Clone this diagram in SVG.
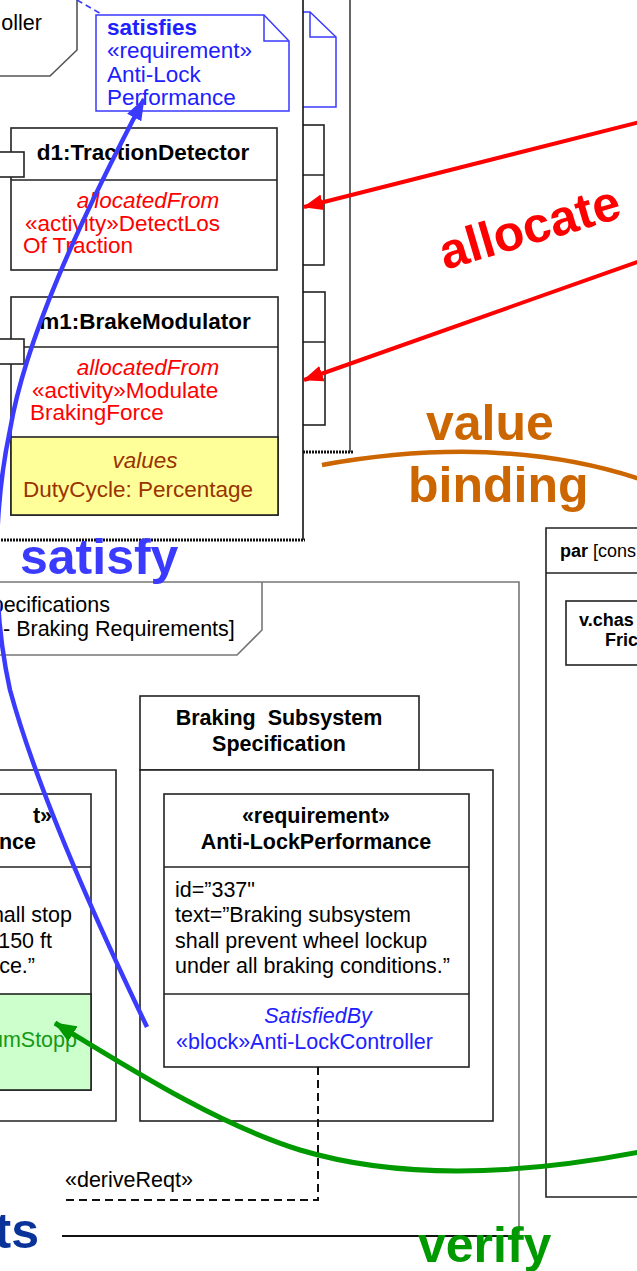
<svg xmlns="http://www.w3.org/2000/svg" width="637" height="1271" viewBox="0 0 637 1271">
<style>
text{font-family:"Liberation Sans",Arial,Helvetica,sans-serif;font-size:22.5px;fill:#000}
.b{font-weight:bold}
.it{font-style:italic}
.r{font-size:21.5px}
.s{font-size:18px}
.c{text-anchor:middle}
.e{text-anchor:end}
.box{fill:#fff;stroke:#222;stroke-width:1.6}
.ln{fill:none;stroke:#222;stroke-width:1.6}
.frm{fill:none;stroke:#777;stroke-width:1.6}
.red{fill:#ff0000}
.blu{fill:#2020ff}
.brn{fill:#993300}
.grn{fill:#159a15}
.big{font-size:50px;font-weight:bold}
.note{fill:#fff;stroke:#3a3aff;stroke-width:1.5}
.dot{stroke:#111;stroke-width:3;stroke-dasharray:2 1}
</style>
<defs>
<marker id="ahR" markerUnits="userSpaceOnUse" markerWidth="20" markerHeight="16" refX="19" refY="8" orient="auto"><path d="M0,0 L20,8 L0,16 z" fill="#ff0000"/></marker>
<marker id="ahB" markerUnits="userSpaceOnUse" markerWidth="22" markerHeight="16" refX="21" refY="8" orient="auto"><path d="M0,0 L22,8 L0,16 z" fill="#3b3bff"/></marker>
<marker id="ahG" markerUnits="userSpaceOnUse" markerWidth="22" markerHeight="18" refX="21" refY="9" orient="auto"><path d="M0,0 L22,9 L0,18 z" fill="#009900"/></marker>
</defs>
<rect x="0" y="0" width="637" height="1271" fill="#fff"/>

<g id="back-ibd">
<line x1="350" y1="0" x2="350" y2="452" stroke="#666" stroke-width="2"/>
<line x1="300" y1="452" x2="353" y2="452" class="dot"/>
<rect x="290" y="125" width="34" height="140" class="box"/>
<line x1="290" y1="175" x2="324" y2="175" class="ln"/>
<rect x="290" y="292" width="35" height="133" class="box"/>
<line x1="290" y1="342" x2="325" y2="342" class="ln"/>
<path d="M290,12 H310 L336,37 V107 H290 z" class="note"/>
<path d="M310,12 V37 H336" fill="none" stroke="#3a3aff" stroke-width="1.5"/>
</g>

<g id="ibd-frame">
<rect x="-5" y="-5" width="308" height="545" fill="#fff"/>
<line x1="303" y1="-2" x2="303" y2="540" stroke="#111" stroke-width="1.6"/>
<line x1="-2" y1="540" x2="305" y2="540" class="dot"/>
<path d="M77,-2 V50 L50,76 H-2" fill="none" stroke="#555" stroke-width="1.6"/>
<text x="42" y="30" class="e r">oller</text>
</g>

<g id="note-satisfies">
<path d="M96,15 H264 L289,41 V111 H96 z" class="note"/>
<path d="M264,15 V41 H289" fill="none" stroke="#3a3aff" stroke-width="1.5"/>
<text x="107" y="35" class="b blu">satisfies</text>
<text x="107" y="58" class="blu">«requirement»</text>
<text x="107" y="82" class="blu">Anti-Lock</text>
<text x="107" y="105" class="blu">Performance</text>
</g>

<g id="d1">
<rect x="11" y="128" width="266" height="142" class="box"/>
<line x1="11" y1="180" x2="277" y2="180" class="ln"/>
<rect x="-5" y="152" width="29" height="25" class="box"/>
<text x="143" y="160" class="b c">d1:TractionDetector</text>
<text x="148" y="208" class="it red c">allocatedFrom</text>
<text x="25" y="231" class="red">«activity»DetectLos</text>
<text x="23" y="253" class="red">Of Traction</text>
</g>

<g id="m1">
<rect x="11" y="297" width="267" height="218" class="box"/>
<rect x="11" y="437" width="267" height="78" fill="#ffff99" stroke="#222" stroke-width="1.6"/>
<line x1="11" y1="347" x2="278" y2="347" class="ln"/>
<rect x="-5" y="339" width="29" height="25" class="box"/>
<text x="145" y="329" class="b c">m1:BrakeModulator</text>
<text x="148" y="375" class="it red c">allocatedFrom</text>
<text x="32" y="398" class="red">«activity»Modulate</text>
<text x="30" y="420" class="red">BrakingForce</text>
<text x="145" y="468" class="it brn c">values</text>
<text x="23" y="497" class="brn">DutyCycle: Percentage</text>
</g>

<g id="req-frame">
<path d="M-2,582 H519 V1236" class="frm"/>
<line x1="62" y1="1236" x2="519" y2="1236" stroke="#111" stroke-width="2"/>
<path d="M262,582 V630 L237,655 H-2" class="frm"/>
<text x="110" y="612" class="e r">pecifications</text>
<text x="3" y="636" class="r">- Braking Requirements]</text>
</g>

<g id="pkg-left">
<path d="M-2,770 H116 V1121 H-2" class="ln"/>
<rect x="-5" y="794" width="96" height="296" class="box"/>
<rect x="-5" y="994" width="96" height="96" fill="#ccffcc" stroke="#222" stroke-width="1.6"/>
<line x1="-5" y1="867" x2="91" y2="867" class="ln"/>
<text x="52" y="823" class="e b r">t»</text>
<text x="36" y="849" class="e b r">nce</text>
<text x="72" y="922" class="e r">hall stop</text>
<text x="52" y="948" class="e r">150 ft</text>
<text x="35" y="973" class="e r">ce.”</text>
<text x="77" y="1047" class="e r grn">umStopp</text>
</g>

<g id="pkg-braking">
<rect x="140" y="696" width="279" height="74" class="box"/>
<rect x="140" y="770" width="353" height="351" class="box"/>
<text x="279" y="725" class="b c r" xml:space="preserve">Braking  Subsystem</text>
<text x="279" y="751" class="b c r">Specification</text>
</g>

<g id="req-antilock">
<rect x="164" y="794" width="305" height="273" class="box"/>
<line x1="164" y1="867" x2="469" y2="867" class="ln"/>
<line x1="164" y1="994" x2="469" y2="994" class="ln"/>
<text x="316" y="823" class="b c r">«requirement»</text>
<text x="316" y="849" class="b c r">Anti-LockPerformance</text>
<text x="175" y="897" class="r">id=”337"</text>
<text x="175" y="922" class="r">text=”Braking subsystem</text>
<text x="175" y="948" class="r">shall prevent wheel lockup</text>
<text x="175" y="973" class="r">under all braking conditions.”</text>
<text x="318" y="1023" class="it blu c r">SatisfiedBy</text>
<text x="176" y="1049" class="blu r">«block»Anti-LockController</text>
</g>

<g id="par-frame">
<path d="M640,528 H546 V1197 H640" class="ln"/>
<line x1="546" y1="573" x2="640" y2="573" class="ln"/>
<text x="560" y="557" class="s"><tspan class="b">par</tspan> [cons</text>
<rect x="566" y="601" width="90" height="64" class="box"/>
<text x="579" y="626" class="b s">v.chas</text>
<text x="605" y="646" class="b s">Fric</text>
</g>

<g id="connectors">
<line x1="77" y1="0" x2="103" y2="15" stroke="#3a3aff" stroke-width="1.5" stroke-dasharray="6 4"/>
<line x1="640" y1="122" x2="304" y2="207" stroke="#ff0000" stroke-width="4" marker-end="url(#ahR)"/>
<line x1="640" y1="261" x2="304" y2="380" stroke="#ff0000" stroke-width="4" marker-end="url(#ahR)"/>
<path d="M322,465 Q500,433 640,479" fill="none" stroke="#cc6600" stroke-width="4.5"/>
<path d="M147,1027 C110,950 40,800 10,690 C-10,600 -5,500 10,430 C25,340 80,220 144,99" fill="none" stroke="#3b3bff" stroke-width="4.5" marker-end="url(#ahB)"/>
<path d="M318,1067 V1200 H62" fill="none" stroke="#111" stroke-width="2" stroke-dasharray="8 5"/>
<path d="M640,1152 C520,1175 400,1180 300,1150 C220,1125 140,1075 55,1023" fill="none" stroke="#009900" stroke-width="5" marker-end="url(#ahG)"/>
<text x="65" y="1187" class="r">«deriveReqt»</text>
<text x="445" y="270" class="big red" transform="rotate(-16.5 445 270)">allocate</text>
<text x="426" y="440" class="big" fill="#cc6600" style="fill:#cc6600">value</text>
<text x="408" y="502" class="big" style="fill:#cc6600">binding</text>
<text x="20" y="574" class="big" style="fill:#3b3bff">satisfy</text>
<text x="418" y="1262" class="big" style="fill:#009900">verify</text>
<text x="39" y="1248" class="big e" style="fill:#0a3399">ts</text>
</g>
</svg>
